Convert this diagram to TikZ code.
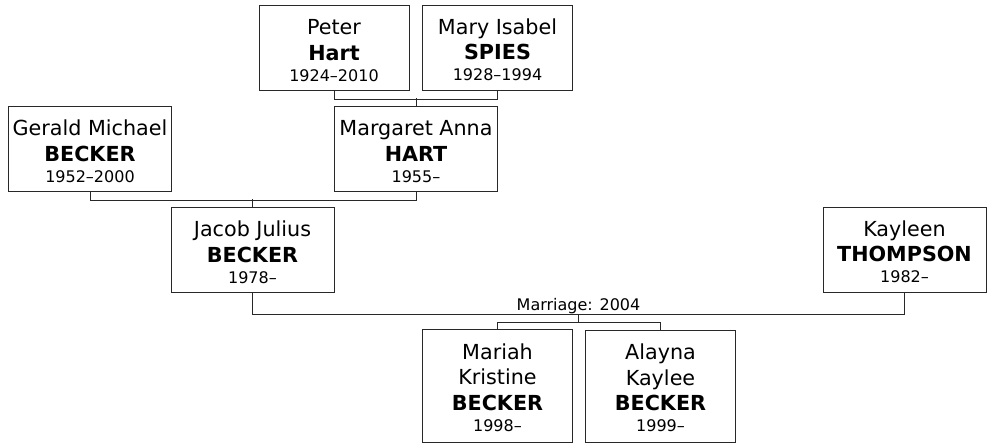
\documentclass[tikz,border=0pt]{standalone}
\usepackage{fontspec}
\setmainfont{DejaVu Sans}
\definecolor{linec}{RGB}{40,40,40}
\newcommand\persyear[1]{{\fontsize{16}{16}\selectfont #1}}
\newcommand\firstline{\rule{0pt}{19pt}}
\begin{document}
\begin{tikzpicture}[x=1pt,y=-1pt,
  person/.style={draw=linec, line width=1pt, align=center, inner sep=0pt,
    font=\fontsize{20.7}{25.5}\selectfont, text=black},
  narrow/.style={minimum width=150pt},
  wide/.style={minimum width=163pt},
  three/.style={minimum height=85pt},
  four/.style={minimum height=112pt},
  conn/.style={draw=linec, line width=1pt},
  marr/.style={font=\fontsize{16}{16}\selectfont, inner sep=0pt, anchor=south}]
\useasboundingbox (0,0) rectangle (990,443);

\node[person, narrow, three] (peter) at (334,48.5)
  {\firstline Peter\\\textbf{Hart}\\[-4.5pt]\persyear{1924–2010}};
\node[person, narrow, three] (mary) at (497.5,48)
  {\firstline Mary Isabel\\\textbf{SPIES}\\[-4.5pt]\persyear{1928–1994}};
\node[person, wide, three] (gerald) at (90,149.5)
  {\firstline Gerald Michael\\\textbf{BECKER}\\[-4.5pt]\persyear{1952–2000}};
\node[person, wide, three] (margaret) at (416,149.5)
  {\firstline Margaret Anna\\\textbf{HART}\\[-4.5pt]\persyear{1955–}};
\node[person, wide, three] (jacob) at (252.5,250.5)
  {\firstline Jacob Julius\\\textbf{BECKER}\\[-4.5pt]\persyear{1978–}};
\node[person, wide, three] (kayleen) at (904.5,250)
  {\firstline Kayleen\\\textbf{THOMPSON}\\[-4.5pt]\persyear{1982–}};
\node[person, narrow, four] (mariah) at (497.5,386)
  {\firstline Mariah\\Kristine\\\textbf{BECKER}\\[-4.5pt]\persyear{1998–}};
\node[person, narrow, four] (alayna) at (660.5,386.5)
  {\firstline Alayna\\Kaylee\\\textbf{BECKER}\\[-4.5pt]\persyear{1999–}};

% Peter + Mary -> Margaret
\draw[conn] (peter.south) -- ++(0,8) -| (mary.south);
\draw[conn] (margaret.north) -- ++(0,-8);
% Gerald + Margaret -> Jacob
\draw[conn] (gerald.south) -- ++(0,8) -| (margaret.south);
\draw[conn] (jacob.north) -- ++(0,-8);
% Jacob + Kayleen -> children
\draw[conn] (jacob.south) -- ++(0,21) coordinate (jl) -| (kayleen.south);
\path (jl) -- (jl -| kayleen.south)
  node[midway, marr] (mlabel) {Marriage: 2004}
  coordinate[midway] (mj);
\draw[conn] (mj) -- ++(0,8) coordinate (cj);
\draw[conn] (mariah.north) |- (cj) -| (alayna.north);
\end{tikzpicture}
\end{document}
